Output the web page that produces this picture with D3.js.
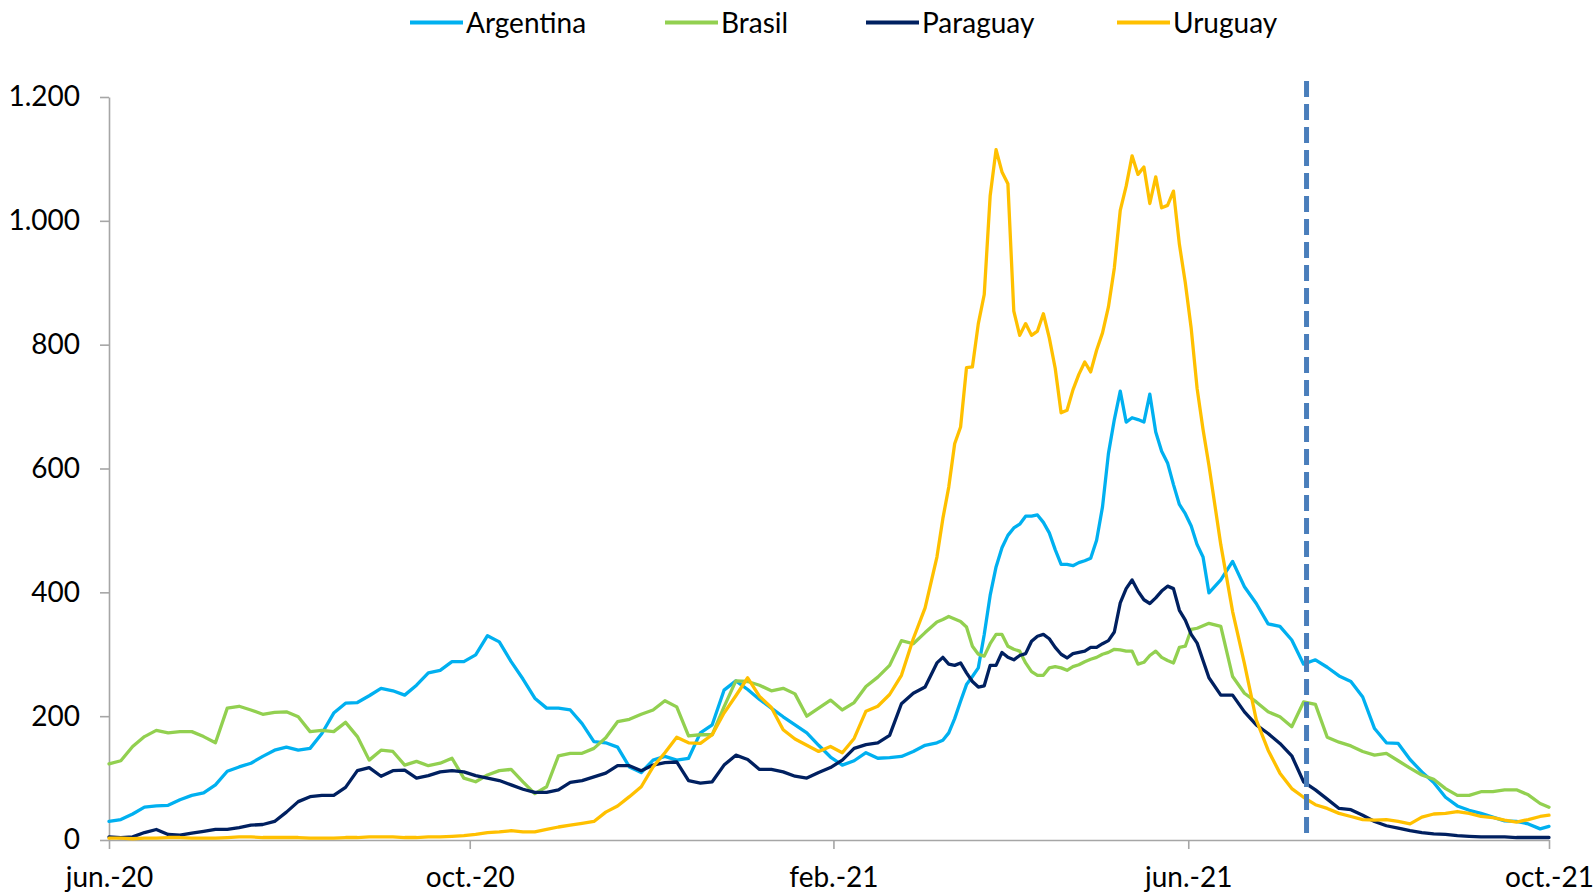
<!DOCTYPE html>
<html><head><meta charset="utf-8">
<script src="https://cdn.jsdelivr.net/npm/d3@7"></script>
<style>
body{margin:0;background:#fff;}
svg{display:block;}
text{font-family:Lato,"Open Sans",sans-serif;fill:#000;}
</style>
</head><body>
<svg id="chart" width="1596" height="896"></svg>
<script>
// ---- data ----
const dates = [
"2020-06-01","2020-06-05","2020-06-09","2020-06-13","2020-06-17","2020-06-21","2020-06-25","2020-06-29",
"2020-07-03","2020-07-07","2020-07-11","2020-07-15","2020-07-19","2020-07-23","2020-07-27","2020-07-31",
"2020-08-04","2020-08-08","2020-08-12","2020-08-16","2020-08-20","2020-08-24","2020-08-28",
"2020-09-01","2020-09-05","2020-09-09","2020-09-13","2020-09-17","2020-09-21","2020-09-25","2020-09-29",
"2020-10-03","2020-10-07","2020-10-11","2020-10-15","2020-10-19","2020-10-23","2020-10-27","2020-10-31",
"2020-11-04","2020-11-08","2020-11-12","2020-11-16","2020-11-20","2020-11-24","2020-11-28",
"2020-12-02","2020-12-06","2020-12-10","2020-12-14","2020-12-18","2020-12-22","2020-12-26","2020-12-30",
"2021-01-03","2021-01-07","2021-01-11","2021-01-15","2021-01-19","2021-01-23","2021-01-27","2021-01-31",
"2021-02-04","2021-02-08","2021-02-12","2021-02-16","2021-02-20","2021-02-24","2021-02-28",
"2021-03-04",
"2021-03-08","2021-03-10","2021-03-12","2021-03-14","2021-03-16","2021-03-18","2021-03-20","2021-03-22",
"2021-03-24","2021-03-26","2021-03-28","2021-03-30",
"2021-04-01","2021-04-03","2021-04-05","2021-04-07","2021-04-09","2021-04-11","2021-04-13","2021-04-15",
"2021-04-17","2021-04-19","2021-04-21","2021-04-23","2021-04-25","2021-04-27","2021-04-29",
"2021-05-01","2021-05-03","2021-05-05","2021-05-07","2021-05-09","2021-05-11","2021-05-13","2021-05-15",
"2021-05-17","2021-05-19","2021-05-21","2021-05-23","2021-05-25","2021-05-27","2021-05-29","2021-05-31",
"2021-06-02","2021-06-04","2021-06-06","2021-06-08",
"2021-06-12","2021-06-16","2021-06-20","2021-06-24","2021-06-28",
"2021-07-02","2021-07-06","2021-07-10","2021-07-14","2021-07-18","2021-07-22","2021-07-26","2021-07-30",
"2021-08-03","2021-08-07","2021-08-11","2021-08-15","2021-08-19","2021-08-23","2021-08-27","2021-08-31",
"2021-09-04","2021-09-08","2021-09-12","2021-09-16","2021-09-20","2021-09-24","2021-09-28","2021-10-01"
];

const argentina = [
30,33,42,53,55,56,65,72,76,89,
111,118,124,135,145,150,145,148,172,205,
221,222,233,245,241,234,250,270,274,288,
288,299,330,320,288,260,229,213,213,210,
188,159,157,150,118,109,129,135,129,132,
173,186,242,257,243,227,213,199,186,173,
153,134,121,128,141,132,133,135,143,153,
157,161,173,196,224,251,264,278,332,395,
441,472,492,504,510,523,523,525,513,496,
469,445,445,443,448,451,455,484,538,624,
679,725,675,682,679,675,720,659,628,609,
574,542,527,507,477,457,399,
420,450,409,382,349,345,323,284,291,279,
265,256,231,180,157,156,130,110,93,69,
55,48,43,37,31,30,26,18,22];

const brasil = [
123,128,151,167,177,173,175,175,167,157,
213,216,210,203,206,207,199,175,177,175,
190,167,129,145,143,121,127,120,124,132,
100,94,105,112,114,94,75,86,136,140,
140,148,165,191,195,203,210,225,215,168,
170,170,215,257,256,250,241,245,236,200,
213,226,210,222,248,263,282,322,317,335,
352,356,361,357,353,344,313,300,297,317,
332,332,313,308,305,286,272,266,266,278,
280,278,274,280,283,288,292,295,300,303,
308,307,305,305,284,287,298,305,295,290,
286,311,313,340,342,346,350,
345,264,237,223,207,199,183,223,219,166,
158,152,143,137,140,128,116,105,98,83,
72,72,78,78,81,81,73,59,53];

const paraguay = [
5,4,5,12,17,9,8,11,14,17,
17,20,24,25,30,45,62,70,72,72,
85,112,117,103,112,113,100,104,110,112,
110,104,100,96,89,82,77,77,81,93,
96,102,108,120,120,112,121,125,126,96,
92,94,121,137,130,114,114,110,103,100,
109,117,129,148,154,157,169,220,237,247,
286,295,284,282,286,270,256,247,249,282,
282,303,295,291,298,301,321,329,332,325,
311,300,294,301,303,305,311,311,317,322,
336,383,406,420,402,388,382,391,402,410,
406,371,355,332,318,290,262,
234,234,207,186,172,156,136,94,81,66,
51,49,40,30,23,19,15,12,10,9,
7,6,5,5,5,4,4,4,4];

const uruguay = [
3,3,2,3,3,4,4,3,3,3,
4,5,5,4,4,4,4,3,3,3,
4,4,5,5,5,4,4,5,5,6,
7,9,12,13,15,13,13,17,21,24,
27,30,45,55,70,86,118,141,166,157,
156,170,205,233,262,232,214,178,163,153,
143,151,141,164,208,216,235,266,325,375,
457,519,570,640,667,763,764,834,881,1040,
1115,1079,1060,854,815,834,815,822,850,811,
762,690,694,727,752,772,756,791,819,861,
924,1017,1056,1105,1075,1087,1028,1071,1021,1025,
1048,962,900,826,729,663,605,
477,369,285,194,145,108,83,69,57,51,
43,38,33,32,33,30,26,37,42,43,
46,43,38,36,32,29,33,38,40];

const seriesNames = ["Argentina","Brasil","Paraguay","Uruguay"];
const seriesValues = [argentina, brasil, paraguay, uruguay];
const seriesColors = ["#00b0f0","#92d050","#002060","#ffc000"];
const yTicks = [0,200,400,600,800,1000,1200];
const xTickDates = ["2020-06-01","2020-10-01","2021-02-01","2021-06-01","2021-10-01"];
const xTickLabels = ["jun.-20","oct.-20","feb.-21","jun.-21","oct.-21"];
const markerDate = "2021-07-11";

// ---- layout ----
const parse = d3.timeParse("%Y-%m-%d");
const plot = {left:109, right:1549, top:97, bottom:840};
const svg = d3.select("#chart");

const x = d3.scaleTime()
  .domain([parse(xTickDates[0]), parse(xTickDates[xTickDates.length-1])])
  .range([plot.left, plot.right]);
const y = d3.scaleLinear().domain([0,1200]).range([plot.bottom, plot.top]);

const loc = d3.formatLocale({decimal:",", thousands:".", grouping:[3], currency:["$",""]});
const fmt = loc.format(",d");
const axisColor = "#a6a6a6";

// y axis
const gy = svg.append("g").attr("transform",`translate(${plot.left},0)`)
  .call(d3.axisLeft(y).tickValues(yTicks).tickFormat(fmt).tickSize(9).tickSizeOuter(0).tickPadding(20));
gy.select(".domain").attr("stroke",axisColor).attr("stroke-width",1.6);
gy.selectAll(".tick line").attr("stroke",axisColor).attr("stroke-width",1.6);
gy.selectAll(".tick text").attr("font-size",28).attr("font-family","Lato").attr("fill","#000");

// x axis
const labelMap = new Map(xTickDates.map((d,i)=>[+parse(d), xTickLabels[i]]));
const gx = svg.append("g").attr("transform",`translate(0,${plot.bottom})`)
  .call(d3.axisBottom(x).tickValues(xTickDates.map(parse)).tickFormat(d=>labelMap.get(+d))
    .tickSize(9).tickSizeOuter(0).tickPadding(18));
gx.select(".domain").attr("stroke",axisColor).attr("stroke-width",1.6);
gx.selectAll(".tick line").attr("stroke",axisColor).attr("stroke-width",1.6);
gx.selectAll(".tick text").attr("font-size",28).attr("font-family","Lato").attr("fill","#000");

// lines
const parsedDates = dates.map(parse);
const line = d3.line().x((d,i)=>x(parsedDates[i])).y(d=>y(d));
seriesValues.forEach((vals,k)=>{
  svg.append("path").datum(vals)
    .attr("fill","none").attr("stroke",seriesColors[k]).attr("stroke-width",3.3)
    .attr("stroke-linejoin","round").attr("stroke-linecap","round")
    .attr("d",line);
});

// vertical dashed marker
svg.append("line")
  .attr("x1",x(parse(markerDate))).attr("x2",x(parse(markerDate)))
  .attr("y1",plot.top-16).attr("y2",plot.bottom)
  .attr("stroke","#4a7ebb").attr("stroke-width",5).attr("stroke-dasharray","16,7");

// legend
const legendX = [410, 665, 866, 1117];
const legend = svg.append("g");
seriesNames.forEach((name,k)=>{
  const g = legend.append("g").attr("transform",`translate(${legendX[k]},0)`);
  g.append("line").attr("x1",0).attr("x2",53).attr("y1",22.5).attr("y2",22.5)
    .attr("stroke",seriesColors[k]).attr("stroke-width",4);
  g.append("text").attr("x",56).attr("y",33).attr("font-size",28).text(name);
});
</script>
</body></html>
